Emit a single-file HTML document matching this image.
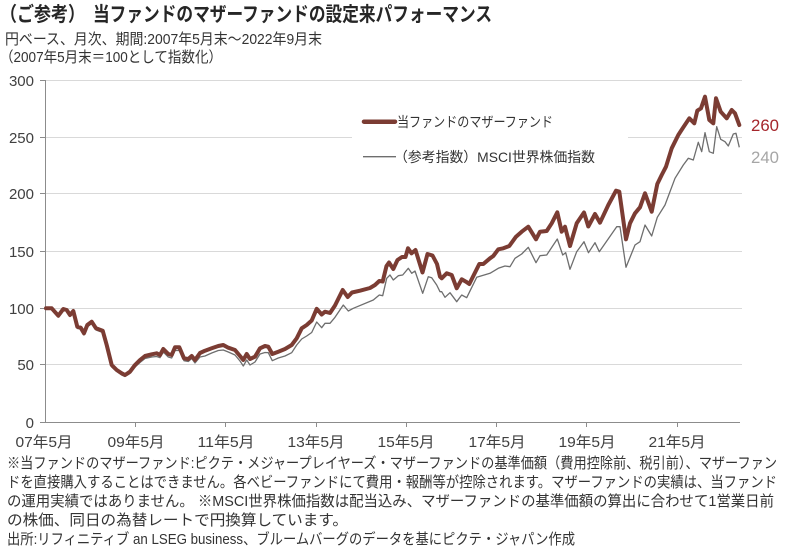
<!DOCTYPE html>
<html><head><meta charset="utf-8"><style>
html,body{margin:0;padding:0;background:#fff;}
svg{display:block;}
text{font-family:"Liberation Sans","Noto Sans CJK JP",sans-serif;}
</style></head><body>
<svg width="808" height="555" viewBox="0 0 808 555" xmlns="http://www.w3.org/2000/svg">
<rect width="808" height="555" fill="#fff"/>
<!-- title -->
<text x="0" y="21" font-size="20" font-weight="bold" fill="#262626" textLength="85" lengthAdjust="spacingAndGlyphs">（ご参考）</text>
<text x="93" y="21" font-size="20" font-weight="bold" fill="#262626" textLength="399" lengthAdjust="spacingAndGlyphs">当ファンドのマザーファンドの設定来パフォーマンス</text>
<text x="5" y="44" font-size="15" fill="#333" textLength="317" lengthAdjust="spacingAndGlyphs">円ベース、月次、期間:2007年5月末～2022年9月末</text>
<text x="0" y="62" font-size="15" fill="#333" textLength="222" lengthAdjust="spacingAndGlyphs">（2007年5月末＝100として指数化）</text>

<!-- gridlines -->
<g stroke="#d9d9d9" stroke-width="1">
<line x1="45" y1="80.5" x2="742" y2="80.5"/>
<line x1="45" y1="137.5" x2="742" y2="137.5"/>
<line x1="45" y1="193.5" x2="742" y2="193.5"/>
<line x1="45" y1="251.5" x2="742" y2="251.5"/>
<line x1="45" y1="308.5" x2="742" y2="308.5"/>
<line x1="45" y1="364.5" x2="742" y2="364.5"/>
</g>
<!-- axes -->
<g stroke="#8c8c8c" stroke-width="1">
<line x1="45.5" y1="80" x2="45.5" y2="422"/>
<line x1="45" y1="422.5" x2="740" y2="422.5"/>
<line x1="40" y1="80.5" x2="45" y2="80.5"/>
<line x1="40" y1="137.5" x2="45" y2="137.5"/>
<line x1="40" y1="193.5" x2="45" y2="193.5"/>
<line x1="40" y1="251.5" x2="45" y2="251.5"/>
<line x1="40" y1="308.5" x2="45" y2="308.5"/>
<line x1="40" y1="364.5" x2="45" y2="364.5"/>
<line x1="40" y1="422.5" x2="45" y2="422.5"/>
<line x1="135.5" y1="422" x2="135.5" y2="427"/>
<line x1="225.5" y1="422" x2="225.5" y2="427"/>
<line x1="316.5" y1="422" x2="316.5" y2="427"/>
<line x1="406.5" y1="422" x2="406.5" y2="427"/>
<line x1="496.5" y1="422" x2="496.5" y2="427"/>
<line x1="586.5" y1="422" x2="586.5" y2="427"/>
<line x1="677.5" y1="422" x2="677.5" y2="427"/>
</g>
<!-- y labels -->
<g font-size="15" fill="#404040" text-anchor="end">
<text x="34" y="86">300</text>
<text x="34" y="143">250</text>
<text x="34" y="199">200</text>
<text x="34" y="257">150</text>
<text x="34" y="314">100</text>
<text x="34" y="370">50</text>
<text x="34" y="428">0</text>
</g>
<!-- x labels -->
<g font-size="15" fill="#404040" text-anchor="middle">
<text x="44" y="447" textLength="57" lengthAdjust="spacingAndGlyphs">07年5月</text>
<text x="136" y="447" textLength="57" lengthAdjust="spacingAndGlyphs">09年5月</text>
<text x="226" y="447" textLength="57" lengthAdjust="spacingAndGlyphs">11年5月</text>
<text x="316" y="447" textLength="57" lengthAdjust="spacingAndGlyphs">13年5月</text>
<text x="406" y="447" textLength="57" lengthAdjust="spacingAndGlyphs">15年5月</text>
<text x="497" y="447" textLength="57" lengthAdjust="spacingAndGlyphs">17年5月</text>
<text x="587" y="447" textLength="57" lengthAdjust="spacingAndGlyphs">19年5月</text>
<text x="677" y="447" textLength="57" lengthAdjust="spacingAndGlyphs">21年5月</text>
</g>

<!-- legend box (covers gridline) -->
<rect x="352" y="98" width="276" height="80" fill="#fff"/>
<line x1="364" y1="121.7" x2="395" y2="121.7" stroke="#7b3c33" stroke-width="4.5" stroke-linecap="round"/>
<text x="397" y="127" font-size="14" fill="#333" textLength="156" lengthAdjust="spacingAndGlyphs">当ファンドのマザーファンド</text>
<line x1="363" y1="156.7" x2="396" y2="156.7" stroke="#6e6e6e" stroke-width="1.3"/>
<text x="394" y="162" font-size="14" fill="#333" textLength="201" lengthAdjust="spacingAndGlyphs">（参考指数）MSCI世界株価指数</text>

<!-- MSCI -->
<polyline fill="none" stroke="#6e6e6e" stroke-width="1.3" stroke-linejoin="round" points="46,308.5 51.7,309 58.3,316.5 63.3,310 66.7,311 70,316.5 73.3,312.5 77.3,328.5 80.7,329 84,335 87.3,327 91.7,323.5 96,330 102.7,332.5 106.7,347 111.7,367 116.7,371.5 121.7,375 125,376.5 130,373.5 135,367 140,362.5 145,358.5 151.7,357 156.7,356.5 160,357.7 163.3,352 168.3,357 171.7,358 175,350.5 179.3,350.5 184,360.7 188.3,361.5 191.7,358.5 195,363 200,357 205,356 211.7,353 218.3,350.5 223.3,350 228.3,352 235,355 240,361 243.3,366 246.7,360 250,365 255,362 260,354 265,352.5 268.3,352.7 272.3,360.7 278.3,358 285,356 291.7,352.7 296.7,345 301.7,339 306.7,336 311.7,332.5 316.7,322 321.7,327.7 325,323.3 330,323.3 335,317.3 343.3,305 348.3,311 353.3,308.3 373.3,300 379.3,295 382.7,295.7 386.7,278.3 390,275 393.3,280 398.3,275.7 402.7,275 408.3,268.3 411.7,273.3 415,271 422.7,293.3 428.3,276.7 431.7,277.7 436.7,285 440,291.7 441.7,291.7 445,297.3 450,292.7 456.7,301.7 461.7,295 466.7,297.7 476.7,277.3 490,273.3 498.3,268.3 505,266 510,266.7 515,258.3 521.7,254 528.3,247.3 536,262.7 540,255.7 546.7,255 557.3,239 562.7,255 565.7,252.7 570,269.3 576.7,251.7 584,241.7 588.5,252.7 595,242.7 599.3,251.7 616.7,226.7 620,226.7 626,267.3 635,245 640,241.7 645,225 651.7,236 657.3,217.3 665,205 675,178.3 683.3,165 688.3,158.3 693.3,160 698.3,142.3 701.7,151.7 705,132.7 709.3,151.7 713.3,153.3 716.7,126.7 720.7,139.3 725,141.7 728.3,146 733.3,134 736,133.3 739.3,147.3"/>

<!-- Fund -->
<polyline fill="none" stroke="#7b3c33" stroke-width="4" stroke-linejoin="round" stroke-linecap="round" points="46,308.3 51.7,308.3 58.3,315.7 63.3,309 66.7,310 70,315 73.3,311 77.3,326.7 80.7,327.7 84,333.3 87.3,325 91.7,321.7 96,328.3 102.7,330.7 106.7,345 111.7,365 116.7,370 121.7,373.3 125,375 130,371.7 135,365 140,360 145,356 151.7,354.3 156.7,353.3 160,355 163.3,349 168.3,354 171.7,355 175,347.3 179.3,347.3 184,358.3 188.3,359 191.7,356 195,360 200,353 205,350.7 211.7,348.3 218.3,346 223.3,345 228.3,347.7 235,350 240,356 243.3,360 246.7,354 250,359 255,356.7 260,348.3 265,346 268.3,346.7 272.3,354 278.3,351.7 285,349 291.7,345 296.7,338.3 301.7,328.3 306.7,325 311.7,320.5 316.7,308.8 321.7,314.5 325,311.7 330,313 335,305.5 342.7,290 347.7,297 352,292.5 360,290.7 370,288 375,285 379.3,281 382.7,281.5 386.5,266 389,262.5 393.3,269 397.5,260 402,257 405.5,257 408,248.3 411.5,253.3 415.5,250 422.5,272.5 427.5,254 432.5,255.5 437,264 440,276.7 441.7,278.3 446.7,273.3 451.7,275 456.7,288.3 461.7,279.3 466,281.7 469.3,284 479.3,264 483.3,264 490,258.3 493.3,256 498.3,249.3 503.3,248.3 509.3,246 516,236.7 521.7,231.7 528.3,226.7 536,239.3 540,231.7 546.7,231 551.7,223.3 557.3,212.3 561.7,231.7 565,226.7 570,246 576.7,223.3 584,212.5 588.3,226.5 595,214 600,222.7 608.3,205 616,190.7 619.3,191.7 626,239.3 630,223.3 635,213.3 640,207.3 645,193.3 651.7,211.7 657.3,184 661.7,175 666,166.7 671.7,148.3 678.3,135 683.3,127.3 689.3,118.3 694.3,123.3 697.3,110.7 701,108.3 705,96.7 709.3,120 713.3,123.3 716,98.3 720.7,111.7 726.7,118.3 731.7,110 735,113.3 739.3,125"/>

<!-- end labels -->
<text x="751" y="131" font-size="17" fill="#a5262c" textLength="28" lengthAdjust="spacingAndGlyphs">260</text>
<text x="751" y="163" font-size="17" fill="#a6a6a6" textLength="28" lengthAdjust="spacingAndGlyphs">240</text>

<!-- footnotes -->
<g font-size="15" fill="#333">
<text x="7" y="468" textLength="770" lengthAdjust="spacingAndGlyphs">※当ファンドのマザーファンド:ピクテ・メジャープレイヤーズ・マザーファンドの基準価額（費用控除前、税引前）、マザーファン</text>
<text x="7" y="487" textLength="770" lengthAdjust="spacingAndGlyphs">ドを直接購入することはできません。各ベビーファンドにて費用・報酬等が控除されます。マザーファンドの実績は、当ファンド</text>
<text x="7" y="506" textLength="767" lengthAdjust="spacingAndGlyphs">の運用実績ではありません。 ※MSCI世界株価指数は配当込み、マザーファンドの基準価額の算出に合わせて1営業日前</text>
<text x="7" y="525" textLength="341" lengthAdjust="spacingAndGlyphs">の株価、同日の為替レートで円換算しています。</text>
<text x="7" y="544" textLength="568" lengthAdjust="spacingAndGlyphs">出所:リフィニティブ an LSEG business、ブルームバーグのデータを基にピクテ・ジャパン作成</text>
</g>
</svg>
</body></html>
